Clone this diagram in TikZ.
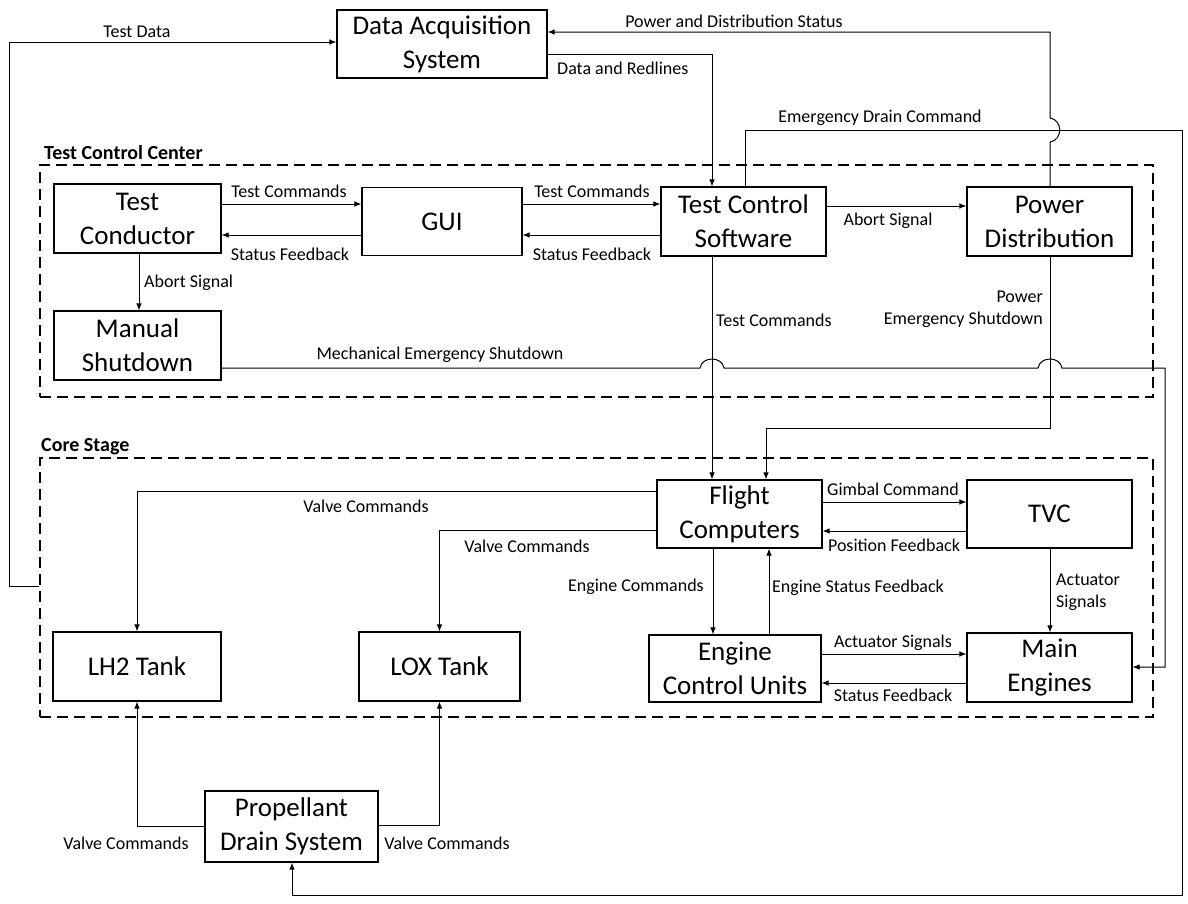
\documentclass[tikz,border=0pt]{standalone}
\usepackage{fontspec}
\setmainfont{Carlito}
\usetikzlibrary{arrows.meta}
\begin{document}
\begin{tikzpicture}[x=1pt,y=-1pt,
  blk/.style 2 args={draw, line width=1.1pt, minimum width=#1, minimum height=#2, inner sep=0pt, align=center, font=\fontsize{27}{34}\selectfont},
  grp/.style 2 args={draw, line width=1.1pt, dash pattern=on 11pt off 6pt, minimum width=#1, minimum height=#2, inner sep=0pt},
  ttl/.style={font=\bfseries\fontsize{20}{24}\selectfont, inner sep=0pt},
  lab/.style={font=\fontsize{18}{22}\selectfont, inner sep=0pt},
  conn/.style={line width=1pt, -{Latex[length=7pt,width=5.5pt]}}
]
\useasboundingbox[fill=white] (0,0) rectangle (1188,903);

% groups
\node[grp={1113}{232}] (tcc) at (596.5,281) {};
\node[grp={1113}{259}] (core) at (596.5,587.5) {};
\node[ttl, anchor=west] (tcct) at (44,153) {Test Control Center};
\node[ttl, anchor=west] (coret) at (41,447) {Core Stage};

% blocks
\node[blk={210}{68}] (das) at (442,44) {Data Acquisition\\System};
\node[blk={167}{69}] (tc) at (137.5,218.5) {Test\\Conductor};
\node[blk={160}{68}] (gui) at (442,221.5) {GUI};
\node[blk={167}{69}] (ms) at (137.5,345.5) {Manual\\Shutdown};
\node[blk={165}{69}] (tcs) at (743.5,221.5) {Test Control\\Software};
\node[blk={165}{69}] (pd) at (1049.5,221.5) {Power\\Distribution};
\node[blk={165}{68}] (fc) at (739.5,514) {Flight\\Computers};
\node[blk={165}{68}] (tvc) at (1049.5,514) {TVC};
\node[blk={172}{67}] (ecu) at (735,668.5) {Engine\\Control Units};
\node[blk={165}{69}] (me) at (1049.5,667.5) {Main\\Engines};
\node[blk={168}{69}] (lh2) at (137,666.5) {LH2 Tank};
\node[blk={161}{69}] (lox) at (439.5,666.5) {LOX Tank};
\node[blk={173}{71}] (pds) at (291.5,826.5) {Propellant\\Drain System};

% connectors
\draw[conn] (tc.east |- 0,204) -- (gui.west |- 0,204);
\draw[conn] (gui.west |- 0,235) -- (tc.east |- 0,235);
\draw[conn] (gui.east |- 0,204) -- (tcs.west |- 0,204);
\draw[conn] (tcs.west |- 0,235) -- (gui.east |- 0,235);
\draw[conn] (tcs.east |- 0,206) -- (pd.west |- 0,206);
\draw[conn] (tc.south -| 139,0) -- (ms.north -| 139,0);
\draw[conn] (das.east |- 0,54) -| (tcs.north -| 712,0);
\draw[conn] (pd.north -| 1050,0) -- (1050,142) .. controls (1063,140) and (1063,120) .. (1050,118) |- (das.east |- 0,32);
\draw[conn] (tcs.north -| 745,0) |- (1182,130) |- (292,895) -- (pds.south -| 292,0);
\draw[conn] (ms.east |- 0,368) -- (700,368) .. controls (702,356) and (722,356) .. (724,368) -- (1038,368) .. controls (1040,356) and (1060,356) .. (1062,368) -- (1165,368) |- (me.east |- 0,667);
\draw[conn] (tcs.south -| 712,0) -- (fc.north -| 712,0);
\draw[conn] (pd.south -| 1050,0) |- (766,428) -- (fc.north -| 766,0);
\draw[conn] (fc.east |- 0,502) -- (tvc.west |- 0,502);
\draw[conn] (tvc.west |- 0,531) -- (fc.east |- 0,531);
\draw[conn] (fc.west |- 0,491) -| (lh2.north);
\draw[conn] (fc.west |- 0,530) -| (lox.north);
\draw[conn] (fc.south -| 713,0) -- (ecu.north -| 713,0);
\draw[conn] (ecu.north -| 769,0) -- (fc.south -| 769,0);
\draw[conn] (ecu.east |- 0,654) -- (me.west |- 0,654);
\draw[conn] (me.west |- 0,683) -- (ecu.east |- 0,683);
\draw[conn] (tvc.south -| 1050,0) -- (me.north -| 1050,0);
\draw[conn] (core.west |- 0,586) -- (9,586) |- (das.west |- 0,42);
\draw[conn] (pds.west |- 0,826) -| (lh2.south);
\draw[conn] (pds.east |- 0,825) -| (lox.south);

% labels
\node[lab] (l1) at (137,32) {Test Data};
\node[lab] (l2) at (734,21) {Power and Distribution Status};
\node[lab, anchor=west] (l3) at (557,68) {Data and Redlines};
\node[lab] (l4) at (880,118) {Emergency Drain Command};
\node[lab] (l5) at (289,191) {Test Commands};
\node[lab] (l6) at (290,254) {Status Feedback};
\node[lab] (l7) at (592,191) {Test Commands};
\node[lab] (l8) at (592,254) {Status Feedback};
\node[lab] (l9) at (888,221) {Abort Signal};
\node[lab, anchor=west] (l10) at (144,283) {Abort Signal};
\node[lab] (l11) at (440,355) {Mechanical Emergency Shutdown};
\node[lab, anchor=west] (l12) at (716,320) {Test Commands};
\node[lab, anchor=east, align=right] (l13) at (1043,309) {Power\\Emergency Shutdown};
\node[lab] (l14) at (893,489) {Gimbal Command};
\node[lab] (l15) at (894,545) {Position Feedback};
\node[lab] (l16) at (366,506) {Valve Commands};
\node[lab] (l17) at (527,546) {Valve Commands};
\node[lab, anchor=east] (l18) at (704,587) {Engine Commands};
\node[lab, anchor=west] (l19) at (772,588) {Engine Status Feedback};
\node[lab] (l20) at (893,643) {Actuator Signals};
\node[lab] (l21) at (893,695) {Status Feedback};
\node[lab, anchor=west, align=left] (l22) at (1056,592) {Actuator\\Signals};
\node[lab] (l23) at (126,843) {Valve Commands};
\node[lab] (l24) at (447,843) {Valve Commands};
\end{tikzpicture}
\end{document}
